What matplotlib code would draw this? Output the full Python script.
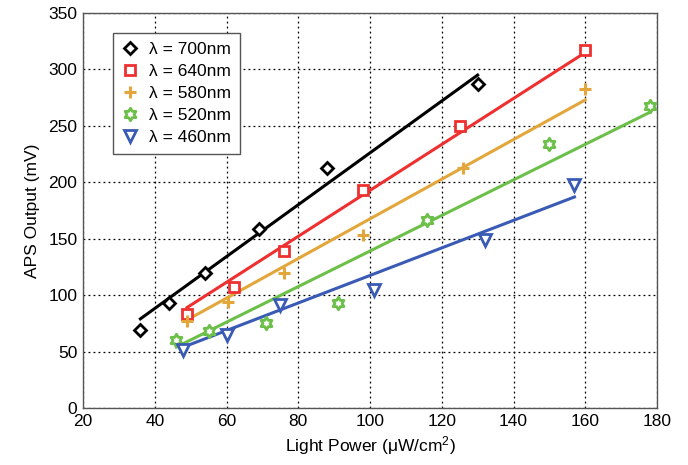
import numpy as np
import matplotlib
matplotlib.use("Agg")
import matplotlib.pyplot as plt
from matplotlib.lines import Line2D
from matplotlib.path import Path

plt.rcParams['font.family'] = ['Liberation Sans', 'DejaVu Sans']
plt.rcParams['mathtext.fontset'] = 'custom'
plt.rcParams['mathtext.rm'] = 'Liberation Sans'
plt.rcParams['mathtext.it'] = 'Liberation Sans:italic'

# ---- data ----
labels = ["700nm", "640nm", "580nm", "520nm", "460nm"]

x700 = [36, 44, 54, 69, 88, 130]
y700 = [69, 93, 120, 159, 213, 287]

x640 = [49, 62, 76, 98, 125, 160]
y640 = [83, 107, 139, 193, 250, 317]

x580 = [49, 60.5, 76, 98, 126, 160]
y580 = [77, 94, 120, 153, 213, 283]

x520 = [46, 55, 71, 91, 116, 150, 178]
y520 = [60, 68, 75, 93, 167, 234, 268]

x460 = [48, 60, 75, 101, 132, 157]
y460 = [51, 65, 91, 105, 149, 198]

# linear-fit lines (value at first and last x)
fit700 = [79, 295]
fit640 = [89, 315]
fit580 = [78, 273]
fit520 = [54, 262]
fit460 = [54, 187]

xticks = [20, 40, 60, 80, 100, 120, 140, 160, 180]
yticks = [0, 50, 100, 150, 200, 250, 300, 350]

# hexagram marker path
_ang = np.pi / 2 + np.arange(12) * np.pi / 6
_rad = np.where(np.arange(12) % 2 == 0, 1.0, 1 / np.sqrt(3))
_verts = np.column_stack([_rad * np.cos(_ang), _rad * np.sin(_ang)])
_verts = np.vstack([_verts, _verts[:1]])
hexagram = Path(_verts, [Path.MOVETO] + [Path.LINETO] * 11 + [Path.CLOSEPOLY])

series = [
    (x700, y700, fit700, 'black', 'D', 6.5),
    (x640, y640, fit640, '#ee3030', 's', 7.5),
    (x580, y580, fit580, '#e3a63a', '+', 8.5),
    (x520, y520, fit520, '#6cc04a', hexagram, 9),
    (x460, y460, fit460, '#3a5bb5', 'v', 8.5),
]

fig = plt.figure(figsize=(6.88, 4.65), dpi=100)
ax = fig.add_axes([83/688, 1-408/465, (657-83)/688, (408-13)/465])

handles = []
for (xs, ys, fit, col, mk, ms), lab in zip(series, labels):
    ax.plot([xs[0], xs[-1]], fit, color=col, lw=2.2, zorder=2)
    if isinstance(mk, str) and mk == '+':
        kw = dict(linestyle='none', marker=mk, ms=ms, mew=2.2, color=col)
    else:
        kw = dict(linestyle='none', marker=mk, ms=ms, mew=2.0, mfc='white', mec=col)
    ax.plot(xs, ys, zorder=3, **kw)
    handles.append(Line2D([], [], **kw))

ax.set_xlim(20, 180)
ax.set_ylim(0, 350)
ax.set_xticks(xticks)
ax.set_yticks(yticks)
ax.tick_params(labelsize=12.5, length=0, pad=4)
ax.grid(True, linestyle=(0, (1.5, 2.5)), color='black', linewidth=0.9)
ax.set_axisbelow(True)
for s in ax.spines.values():
    s.set_color('#555555')
    s.set_linewidth(1.0)

ax.set_xlabel('Light Power (μW/cm$^2$)', fontsize=12.5, labelpad=4)
ax.set_ylabel('APS Output (mV)', fontsize=12.5, labelpad=6)

leg = ax.legend(handles, ['λ = ' + l for l in labels],
                loc='upper left', bbox_to_anchor=(30/574, 1-20/395),
                borderaxespad=0, fancybox=False, framealpha=1,
                edgecolor='#555555', fontsize=12.5, handlelength=1.0,
                handletextpad=0.6, labelspacing=0.4, borderpad=0.5)
leg.get_frame().set_linewidth(1.0)

fig.savefig('out.png', dpi=100)
